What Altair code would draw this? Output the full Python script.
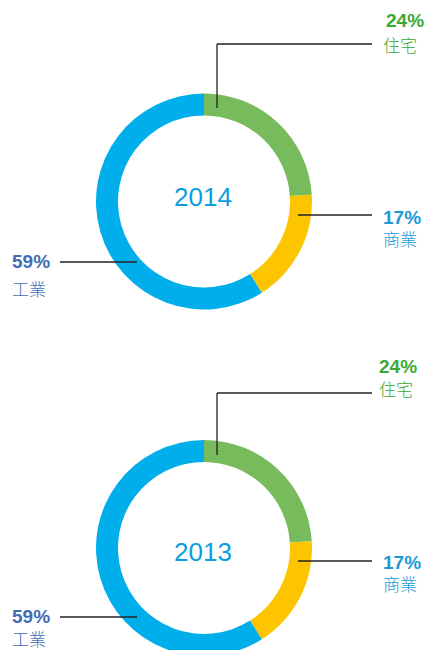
import altair as alt
import pandas as pd

years = ["2014", "2013"]
categories = ["住宅", "商業", "工業"]
shares_2014 = [24, 17, 59]
shares_2013 = [24, 17, 59]
pct_labels_2014 = ["24%", "17%", "59%"]
pct_labels_2013 = ["24%", "17%", "59%"]

ring_colors = ["#77bb5c", "#fcc500", "#00aeeb"]
label_colors = ["#3aa935", "#1a9ad8", "#3f6cb4"]

rows = []
for yr, sh, pl in [("2014", shares_2014, pct_labels_2014), ("2013", shares_2013, pct_labels_2013)]:
    for i, (c, s, p) in enumerate(zip(categories, sh, pl)):
        rows.append({"year": yr, "category": c, "share": s, "pct": p, "order": i})
df = pd.DataFrame(rows)
one = pd.DataFrame({"k": [0]})

# layout (pixel positions) per panel
layout = {
    "2014": {
        "center": (204, 201.5), "year": (203, 198),
        "住宅": {"pct": (386, 21), "cn": (383, 47)},
        "商業": {"pct": (383, 217.5), "cn": (383, 241)},
        "工業": {"pct": (12, 262), "cn": (12, 291)},
        "rules": [(217, 217, 44, 108), (217, 372, 44, 44), (298, 372, 215, 215), (60, 137, 262, 262)],
    },
    "2013": {
        "center": (204, 548), "year": (203, 553),
        "住宅": {"pct": (379, 366.5), "cn": (379, 391)},
        "商業": {"pct": (383, 562.5), "cn": (383, 586)},
        "工業": {"pct": (12, 617), "cn": (12, 641)},
        "rules": [(217, 217, 393, 455), (217, 372, 393, 393), (298, 372, 561, 561), (60, 137, 617, 617)],
    },
}

layers = []
for yr in years:
    L = layout[yr]
    cx, cy = L["center"]
    arc = alt.Chart(df).transform_filter(alt.datum.year == yr).mark_arc(
        innerRadius=86, outerRadius=108, stroke=None
    ).encode(
        theta=alt.Theta("share:Q", stack=True, scale=alt.Scale(domain=[0, 100])),
        color=alt.Color("category:N", scale=alt.Scale(domain=categories, range=ring_colors), legend=None),
        order=alt.Order("order:Q"),
        x=alt.value(cx), y=alt.value(cy),
    )
    layers.append(arc)

    yt = alt.Chart(df).transform_filter(
        (alt.datum.year == yr) & (alt.datum.order == 0)
    ).mark_text(
        font="Liberation Sans", fontSize=26, color="#0aa0e0", align="center", baseline="middle"
    ).encode(text="year:N", x=alt.value(L["year"][0]), y=alt.value(L["year"][1]))
    layers.append(yt)

    for x1, x2, y1, y2 in L["rules"]:
        layers.append(
            alt.Chart(one).mark_rule(color="#222222", strokeWidth=1.3).encode(
                x=alt.value(x1), x2=alt.value(x2), y=alt.value(y1), y2=alt.value(y2)
            )
        )

    for c, lc in zip(categories, label_colors):
        base = alt.Chart(df).transform_filter((alt.datum.year == yr) & (alt.datum.category == c))
        px, py = L[c]["pct"]
        nx, ny = L[c]["cn"]
        layers.append(
            base.mark_text(font="Liberation Sans", fontSize=19, fontWeight="bold", color=lc,
                           align="left", baseline="middle").encode(
                text="pct:N", x=alt.value(px), y=alt.value(py))
        )
        layers.append(
            base.mark_text(font="Noto Sans CJK TC", fontSize=17, fontWeight=300, color=lc,
                           align="left", baseline="middle").encode(
                text="category:N", x=alt.value(nx), y=alt.value(ny))
        )

chart = alt.layer(*layers).resolve_scale(theta="independent").properties(
    width=428, height=650, padding=0, autosize=alt.AutoSizeParams(type="none")
).configure_view(stroke=None)

chart.save("out.html", embed_options={"renderer": "svg", "actions": False})
